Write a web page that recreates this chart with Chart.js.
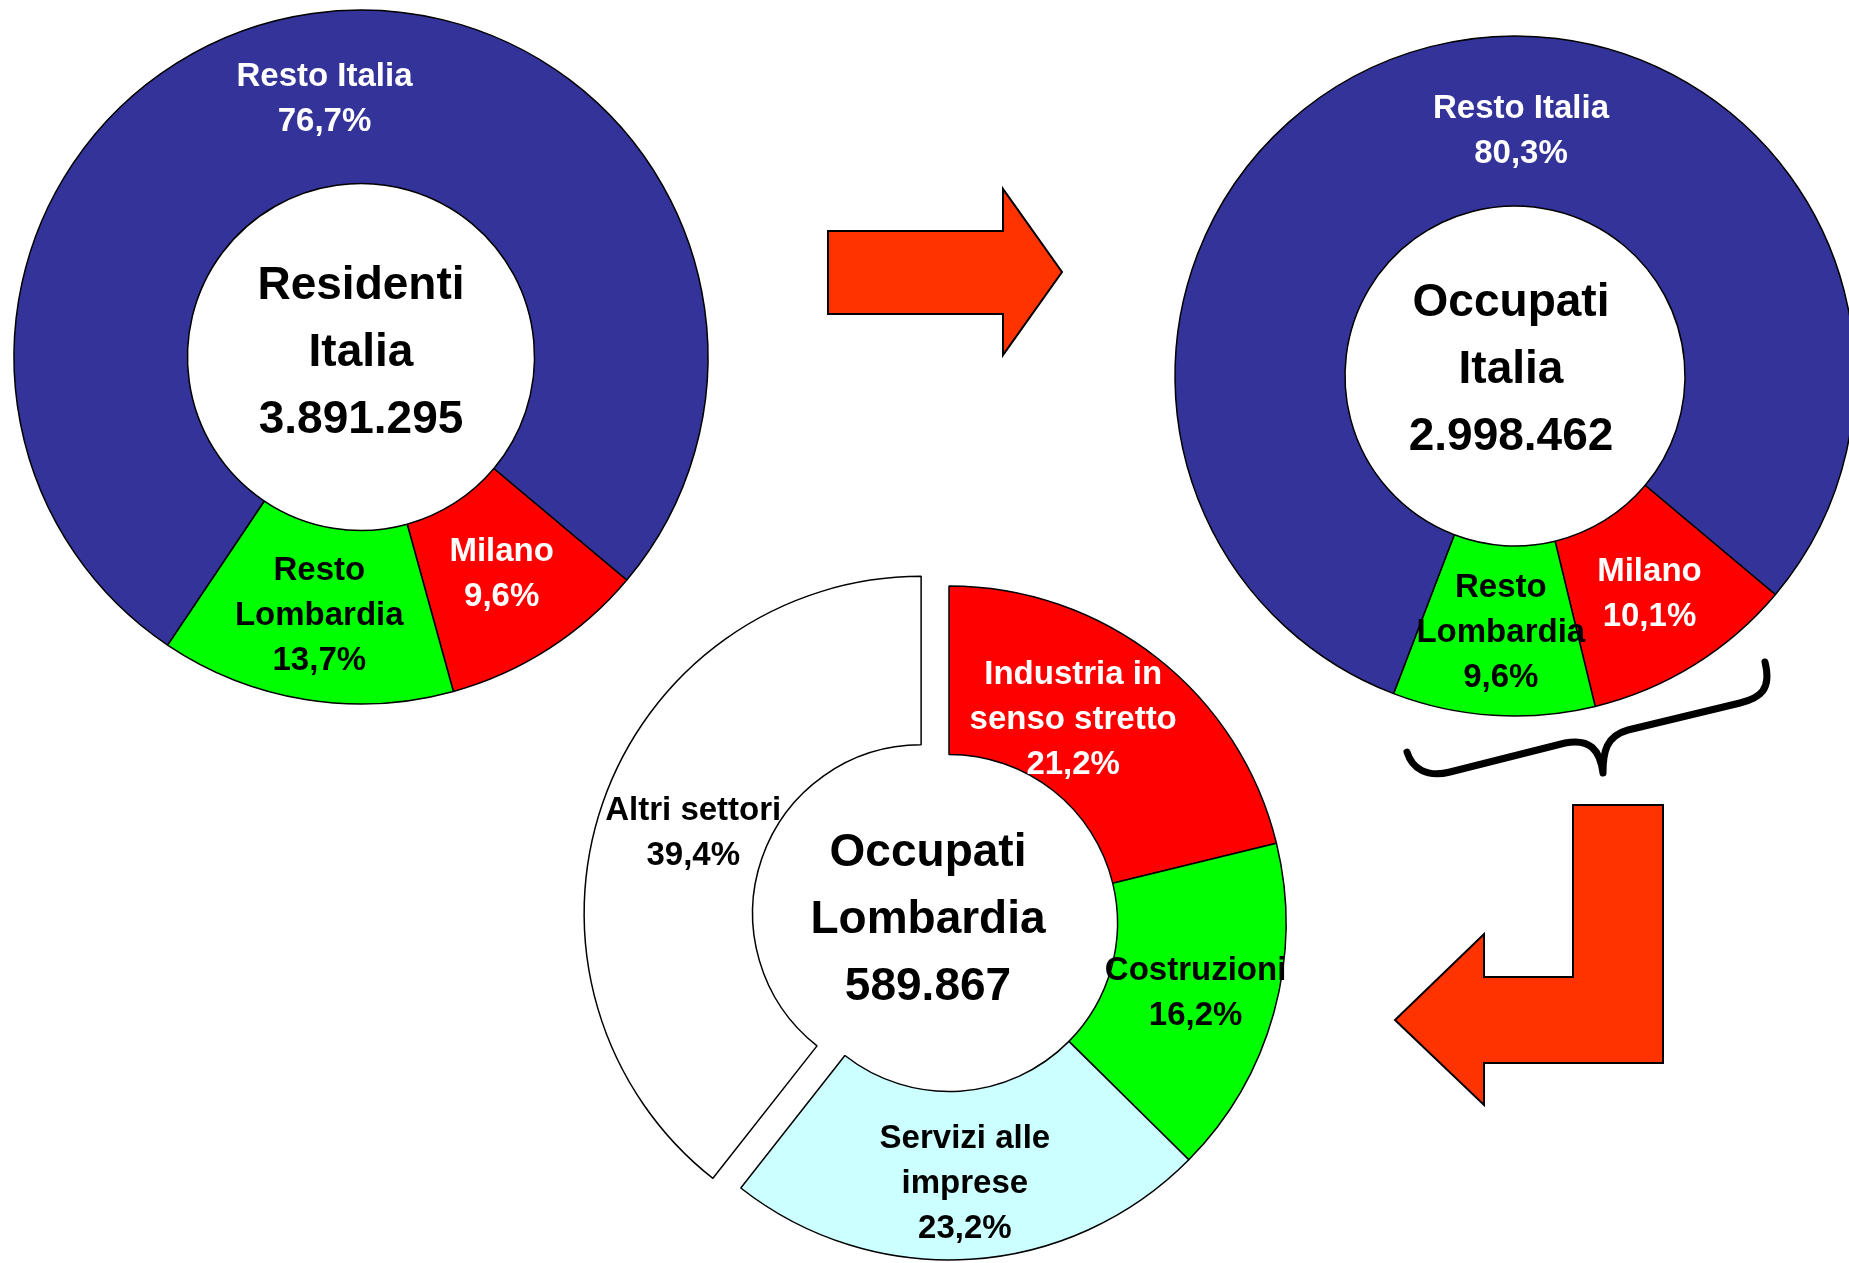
<!DOCTYPE html>
<html>
<head>
<meta charset="utf-8">
<title>Residenti e occupati</title>
<script src="https://cdn.jsdelivr.net/npm/chart.js@4.4.1/dist/chart.umd.min.js"></script>
<style>
  html, body { margin: 0; padding: 0; background: #fff; overflow: hidden; }
  body { width: 1849px; height: 1263px; position: relative; }
  canvas { position: absolute; }
</style>
</head>
<body>
<canvas id="deco" width="1849" height="1263" style="left:0;top:0"></canvas>
<canvas id="residenti" width="720" height="720" style="left:1px;top:-3px"></canvas>
<canvas id="occItalia" width="720" height="720" style="left:1155px;top:16px"></canvas>
<canvas id="occLombardia" width="800" height="800" style="left:549px;top:523px"></canvas>
<script>
// data
const areaLabels = [['Milano'], ['Resto', 'Lombardia'], ['Resto Italia']];
const residentiPct = [9.6, 13.7, 76.7];
const occItaliaPct = [10.1, 9.6, 80.3];
const settoriLabels = [['Industria in', 'senso stretto'], ['Costruzioni'], ['Servizi alle', 'imprese'], ['Altri settori']];
const occLombardiaPct = [21.2, 16.2, 23.2, 39.4];
const totals = [3891295, 2998462, 589867];
const titles = [['Residenti', 'Italia'], ['Occupati', 'Italia'], ['Occupati', 'Lombardia']];

const FONT = '"Liberation Sans", Arial, sans-serif';
const fmtInt = n => String(n).replace(/\B(?=(\d{3})+(?!\d))/g, '.');
const fmtPct = v => v.toFixed(1).replace('.', ',') + '%';

// draws arcs (with exploded slices), in-ring labels and the centre title
const ringLabels = {
  id: 'ringLabels',
  beforeDatasetDraw(chart, args) {
    const ds = chart.data.datasets[args.index];
    const ctx = chart.ctx;
    args.meta.data.forEach((arc, i) => {
      const d = (ds.explode || [])[i] || 0;
      const mid = (arc.startAngle + arc.endAngle) / 2;
      ctx.save();
      ctx.translate(Math.cos(mid) * d, Math.sin(mid) * d);
      arc.draw(ctx);
      ctx.restore();
    });
    return false;
  },
  afterDatasetsDraw(chart, args, opts) {
    const ctx = chart.ctx;
    const ds = chart.data.datasets[0];
    const arcs = chart.getDatasetMeta(0).data;
    ctx.save();
    ctx.textAlign = 'center';
    ctx.textBaseline = 'middle';
    ctx.font = 'bold 33px ' + FONT;
    arcs.forEach((arc, i) => {
      const mid = (arc.startAngle + arc.endAngle) / 2;
      const d = (ds.explode || [])[i] || 0;
      const r = (arc.innerRadius + arc.outerRadius) / 2;
      const sh = (ds.labelShift || [])[i] || [0, 0];
      const x = arc.x + Math.cos(mid) * (r + d) + sh[0];
      const y = arc.y + Math.sin(mid) * (r + d) + sh[1];
      const lines = [...chart.data.labels[i], fmtPct(ds.data[i])];
      ctx.fillStyle = ds.labelColors[i];
      lines.forEach((t, k) => ctx.fillText(t, x, y + (k - (lines.length - 1) / 2) * 45));
    });
    const c = arcs[0];
    const tl = opts.title || [];
    ctx.font = 'bold 46px ' + FONT;
    ctx.fillStyle = '#000';
    tl.forEach((t, k) => ctx.fillText(t, c.x + (opts.dx || 0), c.y + (opts.dy || 0) + (k - (tl.length - 1) / 2) * 67));
    ctx.restore();
  }
};

function ring(id, labels, values, colors, labelColors, radius, rotation, extra, title) {
  return new Chart(document.getElementById(id), {
    type: 'doughnut',
    data: {
      labels,
      datasets: [Object.assign({
        data: values,
        backgroundColor: colors,
        borderColor: '#000',
        borderWidth: 1.5,
        labelColors
      }, extra.ds || {})]
    },
    options: {
      responsive: false,
      animation: false,
      events: [],
      radius,
      cutout: '50%',
      rotation,
      layout: { padding: 0 },
      plugins: {
        legend: { display: false },
        tooltip: { enabled: false },
        ringLabels: { title, dx: extra.dx || 0, dy: extra.dy || 0 }
      }
    },
    plugins: [ringLabels]
  });
}

ring('residenti', areaLabels, residentiPct,
  ['#ff0000', '#00ff00', '#333399'], ['#fff', '#000', '#fff'],
  347, 130, { dy: -4, ds: { labelShift: [[0, -2], [0, 2], [0, 0]] } },
  [...titles[0], fmtInt(totals[0])]);

ring('occItalia', areaLabels, occItaliaPct,
  ['#ff0000', '#00ff00', '#333399'], ['#fff', '#000', '#fff'],
  340, 130, { dx: -4, dy: -6, ds: { labelShift: [[0, 2], [2, 2], [70, 2]] } },
  [...titles[1], fmtInt(totals[1])]);

ring('occLombardia', settoriLabels, occLombardiaPct,
  ['#ff0000', '#00ff00', '#ccffff', '#ffffff'], ['#fff', '#000', '#000', '#000'],
  337, 0, { dx: -21, dy: -3, ds: { explode: [0, 0, 0, 29.5], labelShift: [[-32, -4], [3, 3], [0, 9], [11, 3]] } },
  [...titles[2], fmtInt(totals[2])]);

// arrows and brace
(function drawDeco() {
  const ctx = document.getElementById('deco').getContext('2d');
  ctx.lineJoin = 'miter';
  const poly = pts => {
    ctx.beginPath();
    pts.forEach((p, i) => i ? ctx.lineTo(p[0], p[1]) : ctx.moveTo(p[0], p[1]));
    ctx.closePath();
    ctx.fillStyle = '#ff3300';
    ctx.fill();
    ctx.lineWidth = 2;
    ctx.strokeStyle = '#000';
    ctx.stroke();
  };
  poly([[828, 231], [1003, 231], [1003, 189], [1062, 272], [1003, 355], [1003, 314], [828, 314]]);
  poly([[1573, 805], [1663, 805], [1663, 1063], [1484, 1063], [1484, 1105], [1395, 1020],
        [1484, 934], [1484, 977], [1573, 977]]);

  ctx.beginPath();
  ctx.moveTo(1765, 662);
  ctx.bezierCurveTo(1772, 690, 1760, 698, 1740, 703);
  ctx.lineTo(1628, 730);
  ctx.bezierCurveTo(1606, 736, 1603, 752, 1603, 773);
  ctx.moveTo(1603, 773);
  ctx.bezierCurveTo(1600, 750, 1590, 738, 1565, 743);
  ctx.lineTo(1450, 772);
  ctx.bezierCurveTo(1426, 778, 1412, 768, 1407, 752);
  ctx.lineWidth = 7;
  ctx.lineCap = 'round';
  ctx.strokeStyle = '#000';
  ctx.stroke();
})();
</script>
</body>
</html>
